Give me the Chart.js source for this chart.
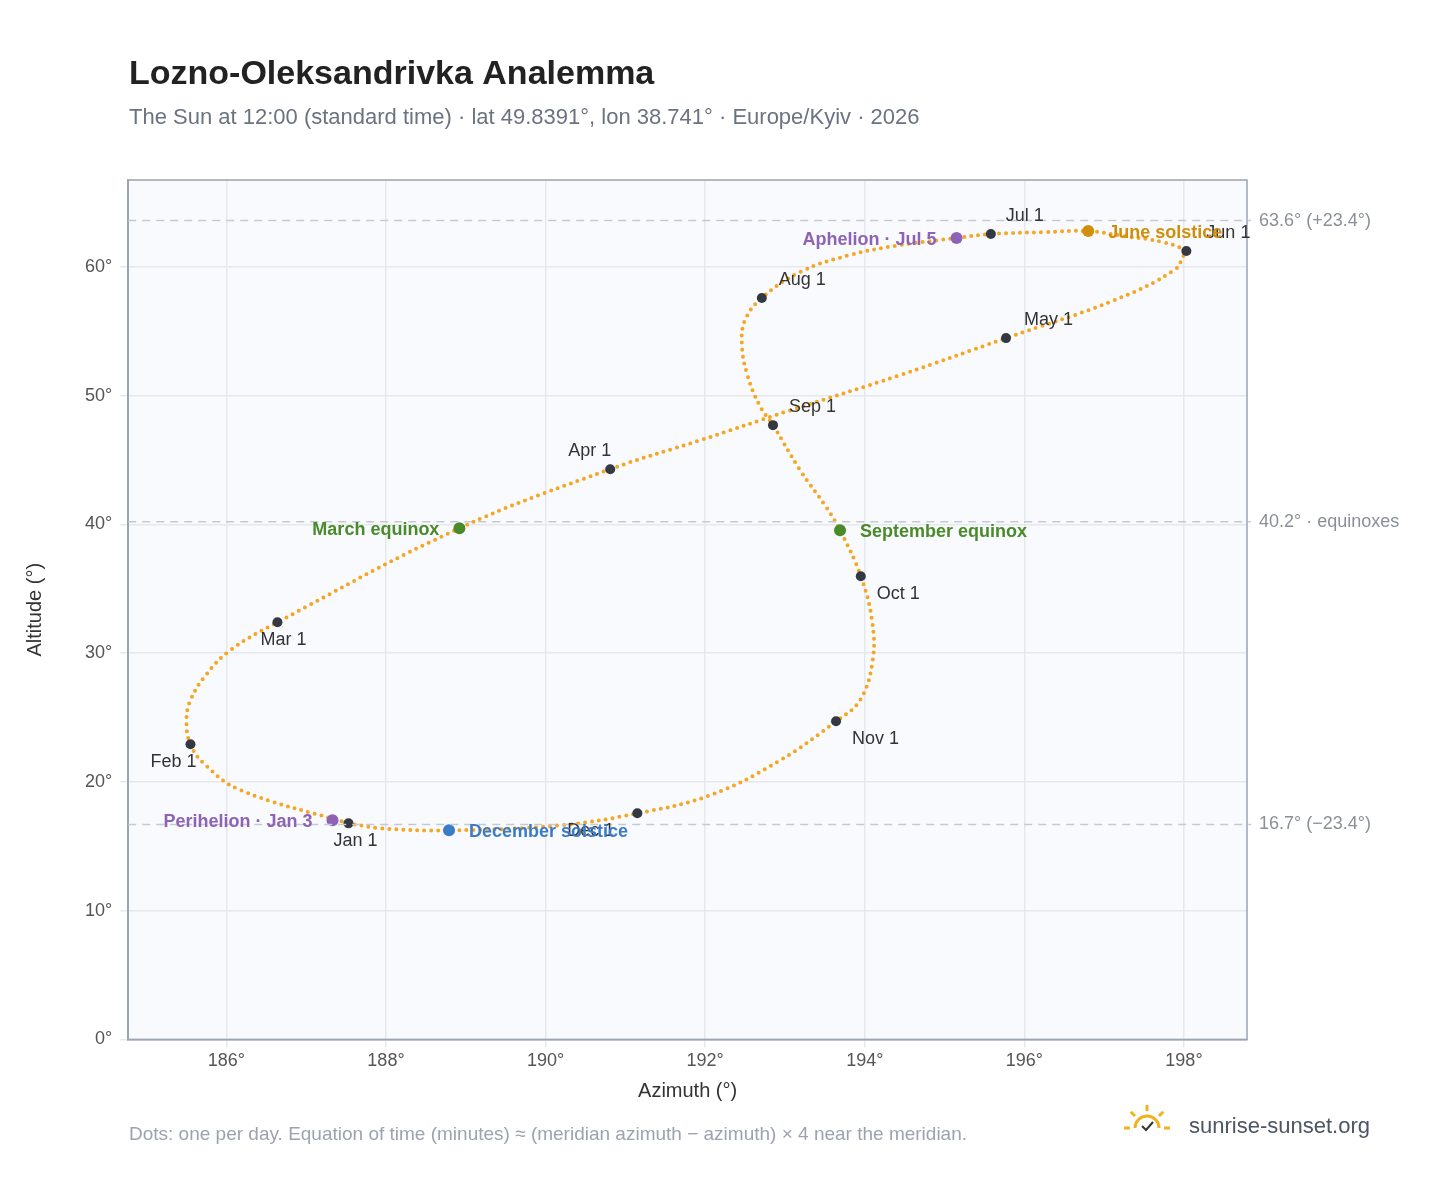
<!DOCTYPE html>
<html>
<head>
<meta charset="utf-8">
<script src="https://cdn.jsdelivr.net/npm/chart.js@4"></script>
<style>
  body { margin: 0; background: #fff; }
  #wrap { width: 1448px; height: 1188px; position: relative; }
</style>
</head>
<body>
<div id="wrap"><canvas id="myChart" width="1448" height="1188"></canvas></div>
<script>
// analemma path (azimuth, altitude), Jan 1 -> Dec 31
const pathAz  = [187.53,186.18,185.74,185.55,185.50,185.55,185.74,186.05,186.64,188.92,190.81,191.94,193.07,194.44,195.77,197.13,197.88,198.00,198.03,197.74,197.24,196.80,196.25,195.58,195.15,194.44,193.81,193.19,192.71,192.50,192.46,192.53,192.68,192.85,193.19,193.50,193.69,193.95,194.09,194.10,193.94,193.64,192.94,192.06,191.15,190.18,188.79,187.95,187.53]
const pathAlt = [16.78,19.35,21.29,22.92,24.79,26.34,28.28,30.23,32.40,39.70,44.29,46.54,48.87,51.59,54.47,57.42,59.75,60.92,61.23,61.92,62.40,62.78,62.70,62.55,62.24,61.69,60.92,59.60,57.58,55.87,53.92,51.59,49.26,47.71,44.21,41.49,39.55,35.98,32.56,29.45,26.34,24.71,21.68,18.96,17.56,16.63,16.24,16.39,16.78]

// first of month markers
const monthLabels = ['Jan 1','Feb 1','Mar 1','Apr 1','May 1','Jun 1','Jul 1','Aug 1','Sep 1','Oct 1','Nov 1','Dec 1']
const monthAz  = [187.53,185.55,186.64,190.81,195.77,198.03,195.58,192.71,192.85,193.95,193.64,191.15]
const monthAlt = [16.78,22.92,32.40,44.29,54.47,61.23,62.55,57.58,47.71,35.98,24.71,17.56]

// special events
const eventLabels = ['Perihelion · Jan 3','March equinox','Aphelion · Jul 5','June solstice','September equinox','December solstice']
const eventAz  = [187.33,188.92,195.15,196.80,193.69,188.79]
const eventAlt = [17.02,39.70,62.24,62.78,39.55,16.24]
const eventColors = ['#8e63b5','#4a8a2a','#8e63b5','#d08f0a','#4a8a2a','#3b7bc8']

// reference lines
const refAlt = [63.6, 40.2, 16.7]
const refLabels = ['63.6° (+23.4°)', '40.2° · equinoxes', '16.7° (−23.4°)']

const FONT = 'Helvetica, Arial, "Liberation Sans", sans-serif'
const ctx = document.getElementById('myChart')

const decor = {
  id: 'decor',
  beforeDraw(chart) {
    const c = chart.ctx, a = chart.chartArea
    c.save()
    c.fillStyle = '#f8fafd'
    c.fillRect(a.left, a.top, a.right - a.left, a.bottom - a.top)
    c.restore()
  },
  afterDatasetsDraw(chart) {
    const c = chart.ctx, a = chart.chartArea
    const xs = chart.scales.x, ys = chart.scales.y
    c.save()
    c.strokeStyle = '#9aa4b2'; c.lineWidth = 1.5
    c.strokeRect(a.left, a.top, a.right - a.left, a.bottom - a.top)
    // dashed reference lines
    c.setLineDash([8, 6]); c.strokeStyle = '#c4c9d2'; c.lineWidth = 1.5
    refAlt.forEach((v, i) => {
      const y = ys.getPixelForValue(v)
      c.beginPath(); c.moveTo(a.left, y); c.lineTo(a.right + 4, y); c.stroke()
      c.fillStyle = '#8a9099'; c.font = '18px ' + FONT; c.textBaseline = 'middle'; c.textAlign = 'left'
      c.fillText(refLabels[i], a.right + 12, y)
    })
    c.setLineDash([])
    // month labels
    const mOff = [[-15,18],[-40,18],[-17,18],[-42,-18],[18,-18],[20,-18],[15,-18],[17,-18],[16,-18],[16,18],[16,18],[-70,18]]
    c.font = '18px ' + FONT; c.fillStyle = '#333'; c.textAlign = 'left'
    monthLabels.forEach((l, i) => {
      const x = xs.getPixelForValue(monthAz[i]), y = ys.getPixelForValue(monthAlt[i])
      c.fillText(l, x + mOff[i][0], y + mOff[i][1])
    })
    // event labels
    const eOff = [[-20, 'right'],[-20,'right'],[-20,'right'],[20,'left'],[20,'left'],[20,'left']]
    c.font = 'bold 18px ' + FONT
    eventLabels.forEach((l, i) => {
      const x = xs.getPixelForValue(eventAz[i]), y = ys.getPixelForValue(eventAlt[i])
      c.fillStyle = eventColors[i]; c.textAlign = eOff[i][1]
      c.fillText(l, x + eOff[i][0], y + 2)
    })
    c.restore()
  },
  afterDraw(chart) {
    const c = chart.ctx
    c.save()
    c.textBaseline = 'alphabetic'; c.textAlign = 'left'
    c.fillStyle = '#222'; c.font = 'bold 34px ' + FONT
    c.fillText('Lozno-Oleksandrivka Analemma', 129, 84)
    c.fillStyle = '#6b7280'; c.font = '22px ' + FONT
    c.fillText('The Sun at 12:00 (standard time) · lat 49.8391°, lon 38.741° · Europe/Kyiv · 2026', 129, 124)
    c.fillStyle = '#9ca3af'; c.font = '19px ' + FONT
    c.fillText('Dots: one per day. Equation of time (minutes) ≈ (meridian azimuth − azimuth) × 4 near the meridian.', 129, 1140)
    c.fillStyle = '#4b5563'; c.font = '22px ' + FONT
    c.fillText('sunrise-sunset.org', 1189, 1133)
    // little sun logo
    c.strokeStyle = '#f2b21b'; c.lineWidth = 3
    c.beginPath(); c.arc(1147, 1128, 12, Math.PI, 2 * Math.PI); c.stroke()
    for (let k = 0; k < 5; k++) {
      const ang = Math.PI + k * Math.PI / 4
      c.beginPath()
      c.moveTo(1147 + Math.cos(ang) * 17, 1128 + Math.sin(ang) * 17)
      c.lineTo(1147 + Math.cos(ang) * 23, 1128 + Math.sin(ang) * 23)
      c.stroke()
    }
    c.strokeStyle = '#333'; c.lineWidth = 2
    c.beginPath(); c.moveTo(1142, 1126); c.lineTo(1146, 1130); c.lineTo(1153, 1122); c.stroke()
    c.restore()
  }
}

new Chart(ctx, {
  type: 'scatter',
  data: {
    datasets: [
      {
        data: pathAz.map((v, i) => ({x: v, y: pathAlt[i]})),
        showLine: true,
        borderColor: '#f5a623',
        borderWidth: 4,
        borderDash: [0, 7],
        borderCapStyle: 'round',
        tension: 0.4,
        pointRadius: 0,
        order: 3
      },
      {
        data: monthAz.map((v, i) => ({x: v, y: monthAlt[i]})),
        backgroundColor: '#333842',
        borderWidth: 0,
        pointRadius: 5,
        order: 2
      },
      {
        data: eventAz.map((v, i) => ({x: v, y: eventAlt[i]})),
        backgroundColor: eventColors,
        borderWidth: 0,
        pointRadius: 6,
        order: 1
      }
    ]
  },
  options: {
    responsive: false,
    animation: false,
    layout: { padding: { left: 19, right: 201, top: 180, bottom: 81 } },
    plugins: { legend: { display: false }, tooltip: { enabled: false } },
    scales: {
      x: {
        type: 'linear', min: 184.77, max: 198.79,
        afterBuildTicks: (s) => { s.ticks = [186,188,190,192,194,196,198].map(v => ({value: v})) },
        ticks: { callback: v => v + '°', color: '#555', font: { size: 18, family: FONT } },
        grid: { color: '#e5e8ed', lineWidth: 1.5 },
        border: { color: '#9aa4b2', width: 1.5 },
        title: { display: true, text: 'Azimuth (°)', color: '#333', font: { size: 20, family: FONT } }
      },
      y: {
        min: 0, max: 66.75,
        afterBuildTicks: (s) => { s.ticks = [0,10,20,30,40,50,60].map(v => ({value: v})) },
        ticks: { callback: v => v + '°', color: '#555', font: { size: 18, family: FONT }, padding: 8 },
        grid: { color: '#e5e8ed', lineWidth: 1.5 },
        border: { color: '#9aa4b2', width: 1.5 },
        title: { display: true, text: 'Altitude (°)', color: '#333', font: { size: 20, family: FONT }, padding: { bottom: 30 } }
      }
    }
  },
  plugins: [decor]
})
</script>
</body>
</html>
